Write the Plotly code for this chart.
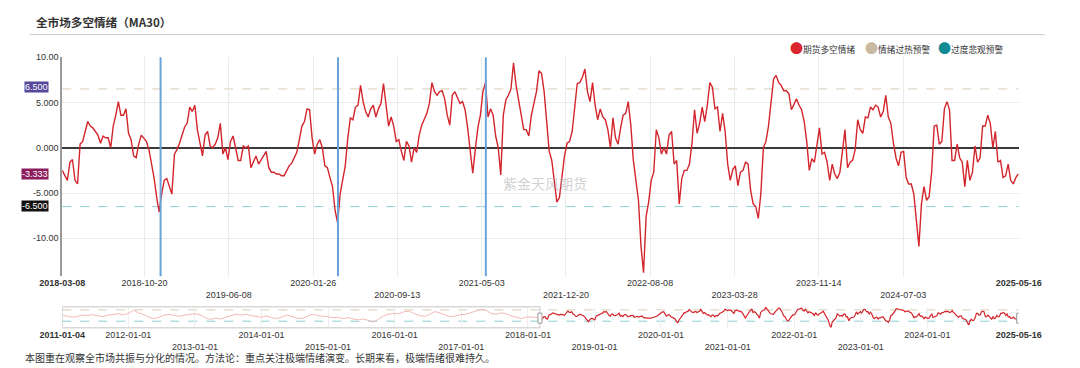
import pandas as pd
import plotly.graph_objects as go

# ---------------- data ----------------
START = "2018-03-08"
END = "2025-05-16"
MINI_START = "2011-01-04"

# weekly readings of the sentiment (MA30), 2018-03-08 .. 2025-05
sentiment = [
    -2.5, -3.1, -3.6, -1.6, -1.3, -3.6, -4.0, 0.4, 0.7, 1.8,
    2.9, 2.4, 2.2, 1.8, 1.4, 0.5, 1.3, 1.1, 1.1, 0.0,
    2.4, 3.6, 5.1, 3.6, 3.6, 4.3, 1.6, 0.9, -0.9, -1.1,
    0.4, 1.4, 1.1, 0.7, -0.2, -1.6, -3.3, -5.4, -7.1, -5.1,
    -3.6, -3.4, -4.3, -5.1, -0.7, -0.2, 0.5, 1.3, 2.3, 2.7,
    4.5, 4.0, 4.7, 2.0, 0.5, -0.9, 1.4, 1.8, 0.2, 0.0,
    0.4, 1.1, 2.7, -0.7, 0.0, -1.3, 0.7, 1.3, 0.0, -1.4,
    -1.4, 0.2, 0.0, 0.2, -2.2, -1.6, -0.9, -1.8, -1.3, -0.9,
    -0.4, -2.2, -2.7, -2.7, -2.9, -2.9, -3.1, -3.1, -2.5, -2.0,
    -1.7, -1.1, -0.5, 0.9, 2.4, 2.9, 4.3, 4.2,
    1.1, -0.7, 0.4, 0.9, 0.0, -2.0, -2.2, -3.3, -4.3, -6.9,
    -8.3, -5.1, -3.3, -2.0, 1.1, 3.3, 3.1, 4.5, 4.7, 6.9,
    5.1, 4.0, 3.4, 4.3, 4.7, 3.4, 4.3, 4.9, 7.1, 4.9,
    2.4, 3.4, 2.4, 0.7, 0.9, -0.4, -1.4, 0.7, 0.2, -1.6,
    0.0, -0.5, 1.4, 2.5, 3.1, 3.8, 4.9, 7.2, 6.2, 5.8,
    6.2, 6.3, 5.4, 3.6, 2.5, 5.8, 6.2, 5.6, 4.9, 5.1,
    4.2, 2.2, 0.0, -2.8, -0.2, 2.2, 3.6, 6.2, 7.2, 3.4,
    4.3, 3.6, 1.3, 0.0, -3.0, 3.6, 5.3, 5.8, 6.5, 9.4,
    6.9, 5.1, 3.4, 2.0, 2.0, 1.3, 3.6, 5.1, 6.2, 8.5,
    8.2, 6.2,
    3.3, -0.4, -1.4, -4.0, -6.0, -5.5, -3.3, -0.9, 0.5, 0.7,
    1.8, 4.7, 7.1, 7.2, 7.8, 8.7, 6.2, 5.1, 7.2, 4.7,
    3.1, 4.3, 3.4, 3.1, 2.0, 0.0, 3.3, 1.1, 0.4, 2.2,
    3.6, 3.8, 5.1, 2.5, -1.4, -3.6, -5.8, -10.9, -13.8, -7.6,
    -6.0, -3.6, -2.7, 2.0, 1.1, -0.7, 0.0, -0.7, 1.4, 1.8,
    -1.8, -1.4, -6.2, -3.4, -2.5, -2.5, -1.8, 0.5, 4.2, 1.6,
    2.7, 4.5, 2.9, 4.7, 7.2, 6.7, 4.3, 4.5, 1.8, 3.8,
    1.8, -1.8, -3.6, -2.4, -2.0, -4.2, -2.7, -2.5, -1.6, -1.8,
    -4.7, -6.2, -6.5, -7.8, -5.1, 0.0, 0.7, 2.4, 4.7, 7.6,
    8.0, 7.2, 6.9,
    6.3, 6.3, 6.0, 4.2, 4.9, 5.4, 4.7, 4.2, 2.9, 0.7,
    -2.5, -1.2, -1.6, 0.2, 2.2, -0.7, -0.5, -1.6, -3.6, -1.8,
    -2.9, -3.4, -2.7, -0.4, 2.0, -2.2, -1.6, -1.4, -0.2, 3.1,
    2.0, 1.6, 3.4, 3.3, 4.5, 4.2, 4.7, 4.5, 3.4, 4.0,
    5.8, 3.4, 2.7, 0.5, -1.1, -2.0, -0.5, -0.4, -3.3, -4.0,
    -4.0, -5.1, -8.5, -10.9, -6.2, -4.3, -5.8, -5.4, -2.7, 2.4,
    2.5, 0.4, 0.7, 4.3, 5.1, 4.2, -1.4, -1.4, 0.4, -1.1,
    -1.6, -4.3, -1.4, -3.6, -2.7, 0.2, -1.6, -1.1, 2.4, 2.4,
    3.6, 2.7, 0.0, 1.8, -1.6, -1.4, -3.3, -3.1, -1.8, -3.6,
    -4.0, -3.3, -2.9,
]

# 4-weekly readings of the earlier history shown in the overview slider (2011-2018)
history = [
    0.5, -0.5, -2.0, -1.0, 0.5, 0.0, 1.0, -0.5, -1.2, 0.5,
    1.5, 2.0, 0.8, 2.5, 6.0, 3.0, 1.0, -2.0, -3.5, -2.0,
    0.5, 1.2, 0.0, -0.8, 0.5, 1.5, 2.0, 1.0, -2.5, -4.5,
    -3.0, -4.0, -2.0, 0.0, 1.5, 0.5, 1.5, 0.0, -1.0, -2.0,
    -0.5, -2.5, -3.5, -2.0, 0.5, -1.0, -3.0, -3.5, -1.0, 1.5,
    0.0, -0.5, -1.5, -2.5, -2.0, -3.5, -2.5, -4.0, -5.0, -4.0,
    -6.0, -7.5, -4.0, 0.0, 1.5, 2.5, 2.0, 4.5, 5.0, 2.0,
    0.0, -1.0, 1.5, 4.5, 3.0, 0.5, -1.5, -0.5, 1.0, 1.5,
    3.0, 5.0, 7.0, 6.0, 2.5, 1.5, 3.0, 2.0, -0.5, -2.0,
    -3.5, -1.5, -2.0, -3.0,
]

hot_level = 6.5          # 情绪过热预警
cold_level = -6.5        # 过度悲观预警
latest_level = -3.333
event_dates = ["2018-12-03", "2020-04-03", "2021-05-14"]

main_tick_dates = ["2018-03-08", "2018-10-20", "2019-06-08", "2020-01-26", "2020-09-13",
                   "2021-05-03", "2021-12-20", "2022-08-08", "2023-03-28", "2023-11-14",
                   "2024-07-03", "2025-05-16"]
main_tick_row = [0, 0, 1, 0, 1, 0, 1, 0, 1, 0, 1, 0]
mini_tick_dates = ["2011-01-04", "2012-01-01", "2013-01-01", "2014-01-01", "2015-01-01",
                   "2016-01-01", "2017-01-01", "2018-01-01", "2019-01-01", "2020-01-01",
                   "2021-01-01", "2022-01-01", "2023-01-01", "2024-01-01", "2025-05-16"]
mini_tick_row = [0, 0, 1, 0, 1, 0, 1, 0, 1, 0, 1, 0, 1, 0, 0]
y_ticks = [10, 5, 0, -5, -10]
y_tick_text = ["10.00", "5.000", "0.000", "-5.000", "-10.00"]

legend_names = ["期货多空情绪", "情绪过热预警", "过度悲观预警"]
title_text = "全市场多空情绪（MA30）"
footnote = "本图重在观察全市场共振与分化的情况。方法论：重点关注极端情绪演变。长期来看，极端情绪很难持久。"
watermark = "紫金天风期货"

# ---------------- styles ----------------
W, H = 1080, 368
FONT = "Liberation Sans, Noto Sans CJK SC, sans-serif"
CJK = "Noto Sans CJK SC, sans-serif"
RED = "#d3252c"
PINK = "#f2b8b8"
HOT = "#d8ccb4"
COLD = "#8ccfd6"
BLUE = "#6aa3d9"
LEG_COLORS = ["#d9252b", "#c9b9a2", "#128a93"]

dates = pd.date_range(START, periods=len(sentiment), freq="7D")
hist_dates = pd.date_range(MINI_START, periods=len(history), freq="28D")


def tick_text(labels, rows):
    out = []
    n = len(labels)
    for i, (lab, r) in enumerate(zip(labels, rows)):
        t = lab
        if i == 0 or i == n - 1:
            t = f"<b>{lab}</b>"
        if r == 1:
            t = "<br>" + t
        out.append(t)
    return out


def px_x(p):
    return p / W


def px_y(p):
    return (H - p) / H


fig = go.Figure()

fig.add_trace(go.Scatter(x=dates, y=sentiment, mode="lines",
                         line=dict(color=RED, width=1.4),
                         xaxis="x", yaxis="y", hoverinfo="skip", showlegend=False))

fig.add_trace(go.Scatter(x=list(hist_dates) + [dates[0]], y=history + [sentiment[0]],
                         mode="lines", line=dict(color=PINK, width=1),
                         xaxis="x2", yaxis="y2", hoverinfo="skip", showlegend=False))
fig.add_trace(go.Scatter(x=dates, y=sentiment, mode="lines",
                         line=dict(color=RED, width=1.2),
                         xaxis="x2", yaxis="y2", hoverinfo="skip", showlegend=False))

shapes = []
for lvl, col in ((hot_level, HOT), (cold_level, COLD)):
    shapes.append(dict(type="line", xref="x domain", x0=0, x1=1, yref="y", y0=lvl, y1=lvl,
                       line=dict(color=col, width=1, dash="dash"), layer="below"))
    shapes.append(dict(type="line", xref="x2 domain", x0=0, x1=1, yref="y2", y0=lvl, y1=lvl,
                       line=dict(color=col, width=1, dash="dash"), layer="below"))
for d in event_dates:
    shapes.append(dict(type="line", xref="x", x0=d, x1=d, yref="y domain", y0=0, y1=1,
                       line=dict(color=BLUE, width=2)))
shapes.append(dict(type="rect", xref="x2", x0=MINI_START, x1=START, yref="y2 domain", y0=0, y1=1,
                   line=dict(color="#c4c4c4", width=1), fillcolor="rgba(0,0,0,0)"))
for d in (START, END):
    shapes.append(dict(type="rect", xref="x2", xsizemode="pixel", xanchor=d, x0=-2, x1=2,
                       yref="y2", ysizemode="pixel", yanchor=-3, y0=-5, y1=5,
                       line=dict(color="#999", width=1), fillcolor="white"))
shapes.append(dict(type="line", xref="paper", yref="paper", x0=px_x(7), x1=px_x(1067),
                   y0=px_y(30), y1=px_y(30), line=dict(color="#cccccc", width=1)))

annotations = []
annotations.append(dict(text=f"<b>{title_text}</b>", xref="paper", yref="paper",
                        x=px_x(11), y=px_y(17), xanchor="left", yanchor="middle",
                        showarrow=False, font=dict(family=CJK, size=11.6, color="#333")))
leg_x = [799, 877, 954]
for name, col, lx in zip(legend_names, LEG_COLORS, leg_x):
    annotations.append(dict(
        text=f"<span style='font-size:13px;color:{col}'>●</span>{name}",
        xref="paper", yref="paper", x=px_x(lx), y=px_y(43), xanchor="left", yanchor="middle",
        showarrow=False, font=dict(family=CJK, size=8.7, color="#333")))
annotations.append(dict(text=watermark, xref="paper", yref="paper", x=px_x(545), y=px_y(180),
                        showarrow=False, font=dict(family=CJK, size=14, color="rgba(170,170,170,0.55)")))
for val, bg, ys in ((hot_level, "#54479c", 2), (latest_level, "#8b1d5c", 4), (cold_level, "#111111", 1)):
    annotations.append(dict(text=f"{val:.3f}", xref="paper", yref="y", x=px_x(27), y=val,
                            yshift=ys, xanchor="right", yanchor="middle", showarrow=False,
                            bgcolor=bg, borderpad=0, font=dict(family=FONT, size=9, color="white")))
annotations.append(dict(text=footnote, xref="paper", yref="paper", x=0, y=px_y(357),
                        xanchor="left", yanchor="middle", showarrow=False,
                        font=dict(family=CJK, size=10, color="#333")))

axis_font = dict(family=FONT, size=9, color="#333")
fig.update_layout(
    autosize=True, margin=dict(l=0, r=0, t=0, b=0, pad=0),
    paper_bgcolor="white", plot_bgcolor="white", showlegend=False,
    xaxis=dict(domain=[px_x(41), px_x(1040)], anchor="y", type="date", range=[START, END],
               tickmode="array", tickvals=main_tick_dates,
               ticktext=tick_text(main_tick_dates, main_tick_row), tickfont=axis_font,
               showgrid=True, gridcolor="#ebebeb", gridwidth=1, zeroline=False,
               showline=False, ticks=""),
    yaxis=dict(domain=[px_y(275), px_y(53)], anchor="x", range=[-14.2, 10],
               tickmode="array", tickvals=y_ticks, ticktext=y_tick_text, tickfont=axis_font,
               showgrid=True, gridcolor="#ebebeb", gridwidth=1,
               zeroline=True, zerolinecolor="#3a3a3a", zerolinewidth=2,
               showline=True, linecolor="#9a9a9a", linewidth=2, ticks=""),
    xaxis2=dict(domain=[px_x(41), px_x(1040)], anchor="y2", type="date",
                range=[MINI_START, END], tickmode="array", tickvals=mini_tick_dates,
                ticktext=tick_text(mini_tick_dates, mini_tick_row), tickfont=axis_font,
                showgrid=True, gridcolor="#eeeeee", zeroline=False, showline=False, ticks=""),
    yaxis2=dict(domain=[px_y(327.3), px_y(306)], anchor="x2", range=[-14.2, 10],
                showticklabels=False, showgrid=False, zeroline=False, showline=False),
    shapes=shapes, annotations=annotations,
)

fig.write_html(
    "out.html",
    config={"displayModeBar": False, "responsive": True},
    default_width="100vw", default_height="100vh",
    post_script=(
        "document.documentElement.style.margin='0';"
        "document.documentElement.style.overflow='hidden';"
        "document.body.style.margin='0';document.body.style.padding='0';"
        "document.body.style.overflow='hidden';"
        "var gd=document.getElementById('{plot_id}');"
        "Plotly.Plots.resize(gd);"
    ),
)
